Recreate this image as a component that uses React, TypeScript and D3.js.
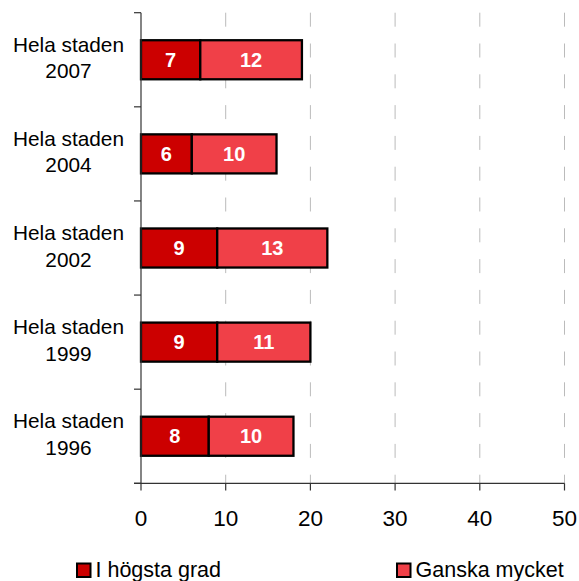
import React from "react";
import * as d3 from "d3";

const categories = ["Hela staden\n2007", "Hela staden\n2004", "Hela staden\n2002", "Hela staden\n1999", "Hela staden\n1996"];
const seriesNames = ["I högsta grad", "Ganska mycket"];
const highest = [7, 6, 9, 9, 8];
const quite = [12, 10, 13, 11, 10];
const xTicks = [0, 10, 20, 30, 40, 50];
const colors = ["#CC0000", "#F04048"];

const W = 579;
const H = 581;
const font = "Arial, 'Liberation Sans', sans-serif";

export default function App() {
  const x = d3.scaleLinear().domain([0, 50]).range([141, 564.5]);
  const y = d3.scaleBand<number>().domain(d3.range(categories.length)).range([12.7, 483.3]).paddingInner(0.585).paddingOuter(0.2925);
  const yb = d3.scaleLinear().domain([0, categories.length]).range([12.7, 483.3]);
  const stack = d3.stack<number>().keys(["0", "1"]).value((i, k) => (k === "0" ? highest[i] : quite[i]));
  const layers = stack(d3.range(categories.length));
  const y0 = 12.7, y1 = 483.3;

  return (
    <svg width={W} height={H} style={{ position: "absolute", left: 0, top: 0, background: "#fff" }} fontFamily={font}>
      {xTicks.filter((t) => t > 0).map((t) => (
        <line key={"g" + t} x1={x(t)} x2={x(t)} y1={y0} y2={y1} stroke="#bbbbbb" strokeWidth={1} strokeDasharray="14,16.8" />
      ))}
      {layers.map((layer, li) =>
        layer.map((d, i) => (
          <g key={li + "-" + i}>
            <rect x={x(d[0])} y={y(i)!} width={x(d[1]) - x(d[0])} height={y.bandwidth()} fill={colors[li]} stroke="#000" strokeWidth={2.3} />
            <text x={(x(d[0]) + x(d[1])) / 2} y={y(i)! + y.bandwidth() / 2 + 7} textAnchor="middle" fill="#fff" fontWeight="bold" fontSize={20}>
              {d[1] - d[0]}
            </text>
          </g>
        ))
      )}
      <line x1={141} x2={141} y1={y0} y2={y1} stroke="#333" strokeWidth={1.2} />
      {d3.range(categories.length + 1).map((i) => (
        <line key={"yt" + i} x1={134} x2={141} y1={yb(i)} y2={yb(i)} stroke="#333" strokeWidth={1.2} />
      ))}
      <line x1={134} x2={564.5} y1={y1} y2={y1} stroke="#333" strokeWidth={1.2} />
      {xTicks.map((t) => (
        <g key={"xt" + t}>
          <line x1={x(t)} x2={x(t)} y1={y1} y2={490.5} stroke="#333" strokeWidth={1.2} />
          <text x={x(t)} y={526} textAnchor="middle" fontSize={22.5} fill="#000">{t}</text>
        </g>
      ))}
      {categories.map((c, i) => {
        const cy = y(i)! + y.bandwidth() / 2;
        const lines = c.split("\n");
        return (
          <text key={"c" + i} textAnchor="middle" fontSize={20.8} fill="#000">
            <tspan x={68.5} y={cy - 8}>{lines[0]}</tspan>
            <tspan x={68.5} y={cy + 18.6}>{lines[1]}</tspan>
          </text>
        );
      })}
      {seriesNames.map((s, i) => {
        const lx = i === 0 ? 77 : 397;
        return (
          <g key={"l" + i}>
            <rect x={lx} y={563.5} width={13.5} height={13.5} fill={colors[i]} stroke="#000" strokeWidth={2} />
            <text x={lx + 18.5} y={577} fontSize={21.5} fill="#000">{s}</text>
          </g>
        );
      })}
    </svg>
  );
}
